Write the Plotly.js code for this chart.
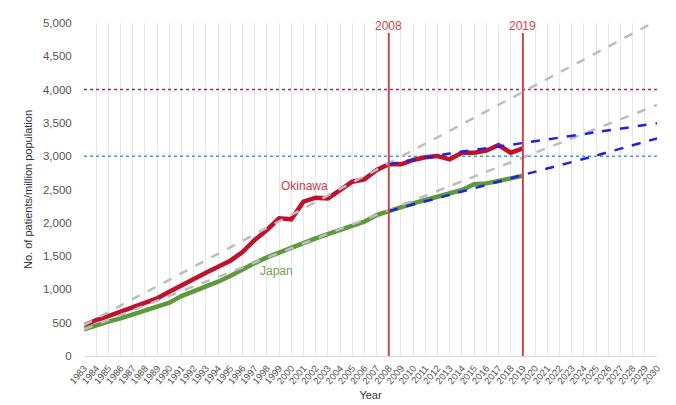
<!DOCTYPE html>
<html>
<head>
<meta charset="utf-8">
<script src="https://cdn.plot.ly/plotly-3.0.1.min.js"></script>
<style>html,body{margin:0;padding:0;background:#fff;}#chart{width:676px;height:405px;}</style>
</head>
<body>
<div id="chart"></div>
<script>
// Observed data (patients per million population)
const years = [1983,1984,1985,1986,1987,1988,1989,1990,1991,1992,1993,1994,1995,1996,1997,1998,1999,2000,2001,2002,2003,2004,2005,2006,2007,2008,2009,2010,2011,2012,2013,2014,2015,2016,2017,2018,2019];
const okinawa = [458,540,600,665,730,800,866,966,1066,1166,1251,1341,1431,1560,1742,1892,2067,2052,2317,2377,2367,2492,2617,2652,2793,2878,2878,2943,2983,3003,2953,3053,3053,3083,3168,3053,3118];
const japan = [400,465,515,566,626,690,750,800,900,966,1041,1116,1201,1301,1395,1480,1555,1630,1705,1767,1830,1892,1960,2017,2117,2177,2242,2292,2342,2392,2432,2492,2578,2592,2628,2668,2707];

// Trend lines (gray dashed: 1983–2008 trend extended)
const trendYears = [1983, 2030];
const okinawaTrend = [465, 5035];
const japanTrend = [400, 3769];

// Projections from 2008 (blue dashed)
const projYears = [2008, 2013, 2019, 2025, 2030];
const okinawaProj = [2878, 3040, 3198, 3360, 3494];
const japanProj = [2177, 2420, 2718, 3010, 3268];

// Reference levels
const refYears = [1983, 2030];
const level4000 = [4000, 4000];
const level3000 = [3000, 3000];

// Marked years
const markedYears = [2008, 2019];

const tickYears = [];
for (let y = 1983; y <= 2030; y++) tickYears.push(y);

const traces = [
  {x: refYears, y: level4000, mode: 'lines', line: {color: '#8e2c8e', width: 1.5, dash: 'dot'}, hoverinfo: 'skip'},
  {x: refYears, y: level3000, mode: 'lines', line: {color: '#3fa0cf', width: 1.5, dash: 'dot'}, hoverinfo: 'skip'},
  {x: years, y: okinawa, mode: 'lines', line: {color: '#c0122c', width: 4.5}},
  {x: years, y: japan, mode: 'lines', line: {color: '#5c9a3c', width: 4.5}},
  {x: trendYears, y: okinawaTrend, mode: 'lines', line: {color: '#bdbdbd', width: 2.5, dash: 'dash'}},
  {x: trendYears, y: japanTrend, mode: 'lines', line: {color: '#bdbdbd', width: 2.5, dash: 'dash'}},
  {x: projYears, y: okinawaProj, mode: 'lines', line: {color: '#1f22e0', width: 2.5, dash: 'dash', shape: 'spline'}},
  {x: projYears, y: japanProj, mode: 'lines', line: {color: '#1f22e0', width: 2.5, dash: 'dash', shape: 'spline'}}
];

const shapes = markedYears.map(yr => ({
  type: 'line', xref: 'x', yref: 'y', x0: yr, x1: yr, y0: 0, y1: 4850,
  line: {color: '#c9474d', width: 2}
}));

const annotations = markedYears.map(yr => ({
  x: yr, y: 4960, xref: 'x', yref: 'y', text: String(yr), showarrow: false,
  font: {color: '#c9474d', size: 12}
})).concat([
  {x: 2001.1, y: 2550, xref: 'x', yref: 'y', text: 'Okinawa', showarrow: false, font: {color: '#cf3a4c', size: 12}},
  {x: 1998.8, y: 1270, xref: 'x', yref: 'y', text: 'Japan', showarrow: false, font: {color: '#74a257', size: 12}}
]);

const layout = {
  width: 676, height: 405,
  margin: {l: 84, r: 19, t: 23, b: 49},
  paper_bgcolor: '#ffffff', plot_bgcolor: '#ffffff',
  showlegend: false,
  font: {family: 'Liberation Sans, Arial, sans-serif', color: '#555555'},
  xaxis: {
    range: [1983, 2030], tickmode: 'array', tickvals: tickYears, ticktext: tickYears.map(String),
    tickangle: -50, tickfont: {size: 9.5, color: '#555555'},
    showgrid: true, gridcolor: '#e6e6e6', gridwidth: 1,
    showline: true, linecolor: '#d9d9d9', zeroline: false,
    ticks: 'outside', ticklen: 2, tickcolor: 'rgba(0,0,0,0)',
    title: {text: 'Year', font: {size: 11, color: '#333333'}, standoff: 6}
  },
  yaxis: {
    range: [0, 5000], dtick: 500, tickformat: ',d',
    tickfont: {size: 11.5, color: '#555555'},
    showgrid: false, zeroline: false, showline: false,
    ticks: 'outside', ticklen: 9, tickcolor: 'rgba(0,0,0,0)',
    title: {text: 'No. of patients/million population', font: {size: 11, color: '#333333'}, standoff: 8}
  },
  shapes: shapes,
  annotations: annotations
};

Plotly.newPlot('chart', traces, layout, {displayModeBar: false, staticPlot: true});
</script>
</body>
</html>
